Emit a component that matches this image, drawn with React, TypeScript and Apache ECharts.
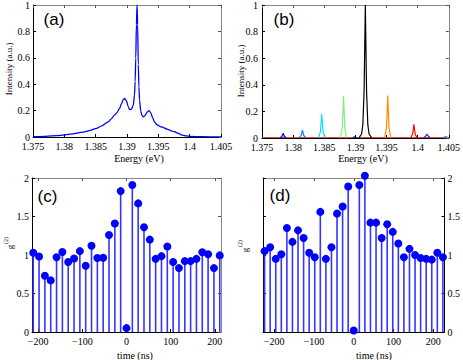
import React, { useEffect, useRef } from "react";
import * as echarts from "echarts";

const SERIF = "Liberation Serif";
const SANS = "Liberation Sans";

const energyTicks = [1.375, 1.38, 1.385, 1.39, 1.395, 1.4, 1.405];
const timeTicks = [-200, -100, 0, 100, 200];

// Panel (a): measured spectrum [energy eV, intensity]
const spectrumA: [number, number][] = [
  [1.375, 0.002], [1.377, 0.005], [1.379, 0.011], [1.381, 0.022], [1.383, 0.037],
  [1.384, 0.048], [1.385, 0.063], [1.386, 0.085], [1.387, 0.115], [1.3875, 0.138],
  [1.388, 0.165], [1.3884, 0.185], [1.3888, 0.215], [1.3891, 0.25], [1.3894, 0.283],
  [1.3896, 0.292], [1.3899, 0.275], [1.3902, 0.23], [1.3904, 0.208], [1.3907, 0.21],
  [1.391, 0.24], [1.3912, 0.32], [1.3913, 0.42], [1.3914, 0.6], [1.3915, 0.85],
  [1.3916, 1.0], [1.3917, 0.85], [1.3918, 0.55], [1.3919, 0.38], [1.392, 0.28],
  [1.3922, 0.195], [1.3924, 0.163], [1.3926, 0.153], [1.3928, 0.158], [1.393, 0.172],
  [1.3932, 0.188], [1.3935, 0.2], [1.3938, 0.183], [1.3941, 0.145], [1.3944, 0.112],
  [1.3948, 0.092], [1.3955, 0.076], [1.3965, 0.058], [1.3972, 0.045], [1.3977, 0.038],
  [1.3982, 0.027], [1.3988, 0.014], [1.3995, 0.008], [1.4, 0.005], [1.402, 0.002],
  [1.405, 0.001],
];

// Panel (b): individual spectral lines
const baselineB: [number, number][] = [[1.375, 0.003], [1.405, 0.003]];
const peakBlue1: [number, number][] = [[1.3779, 0.002], [1.3782, 0.012], [1.3784, 0.035], [1.3786, 0.012], [1.3789, 0.002]];
const peakAzure1: [number, number][] = [[1.381, 0.002], [1.3813, 0.02], [1.3815, 0.06], [1.3817, 0.02], [1.382, 0.002]];
const peakCyan: [number, number][] = [[1.3841, 0.002], [1.3844, 0.05], [1.3846, 0.18], [1.3848, 0.05], [1.3851, 0.002]];
const peakGreen: [number, number][] = [[1.3876, 0.002], [1.3879, 0.08], [1.3881, 0.315], [1.3883, 0.08], [1.3886, 0.002]];
const peakNavy: [number, number][] = [[1.3896, 0.002], [1.3899, 0.01], [1.3902, 0.002]];
const peakBlack: [number, number][] = [[1.3906, 0.003], [1.391, 0.03], [1.3912, 0.1], [1.3914, 0.35], [1.3916, 1.0], [1.3918, 0.35], [1.392, 0.1], [1.3922, 0.03], [1.3926, 0.003]];
const peakOrange: [number, number][] = [[1.3947, 0.002], [1.395, 0.08], [1.3952, 0.32], [1.3954, 0.08], [1.3957, 0.002]];
const peakRed: [number, number][] = [[1.3989, 0.002], [1.3992, 0.03], [1.3994, 0.103], [1.3996, 0.03], [1.3999, 0.002]];
const peakBlue2: [number, number][] = [[1.401, 0.002], [1.4013, 0.015], [1.4015, 0.03], [1.4017, 0.015], [1.402, 0.002]];
const peakAzure2: [number, number][] = [[1.404, 0.002], [1.4043, 0.008], [1.4045, 0.013], [1.4047, 0.008], [1.405, 0.002]];

// Panel (c)
const timesC = [-211.2, -198, -184.8, -171.6, -158.4, -145.2, -132, -118.8, -105.6, -92.4, -79.2, -66, -52.8, -39.6, -26.4, -13.2, 0,
  13.2, 26.4, 39.6, 52.8, 66, 79.2, 92.4, 105.6, 118.8, 132, 145.2, 158.4, 171.6, 184.8, 198, 211.2];
const g2C = [1.03, 0.98, 0.73, 0.67, 0.97, 1.04, 0.91, 0.955, 1.05, 0.86, 1.12, 0.96, 0.965, 1.26, 1.41, 1.83, 0.05,
  1.91, 1.67, 1.36, 1.2, 0.95, 0.985, 1.11, 0.91, 0.83, 0.92, 0.92, 0.95, 1.035, 1.01, 0.83, 0.995];

// Panel (d)
const timesD = [-224, -210, -196, -182, -168, -154, -140, -126, -112, -98, -84, -70, -56, -42, -28, -14, 0,
  14, 28, 42, 56, 70, 84, 98, 112, 126, 140, 154, 168, 182, 196, 210, 224];
const g2D = [1.05, 1.1, 0.95, 1.01, 1.35, 1.17, 1.32, 1.22, 1.03, 0.97, 1.56, 0.95, 1.1, 1.54, 1.63, 1.89, 0.02,
  1.91, 2.03, 1.42, 1.42, 1.22, 1.4, 1.3, 1.15, 0.97, 1.08, 1.0, 0.96, 0.95, 0.94, 1.03, 0.97];

const fmtEnergy = (v: number) => String(Math.round(v * 1000) / 1000);
const fmtTime = (v: number) => String(Math.round(v)).replace("-", "\u2212");

const labelStyle = { fontFamily: SERIF, fontSize: 10, fontWeight: "normal", color: "#000" };

function xMain(gridIndex: number, min: number, max: number, ticks: number[], fmt: (v: number) => string) {
  return {
    type: "value", gridIndex, min, max, position: "bottom",
    axisLine: { show: true, onZero: false, lineStyle: { color: "#000", width: 1 } },
    axisTick: { show: true, inside: true, length: 3, customValues: ticks, lineStyle: { color: "#000" } },
    axisLabel: { ...labelStyle, customValues: ticks, formatter: fmt, margin: 4 },
    splitLine: { show: false },
  };
}
function xMirror(gridIndex: number, min: number, max: number, ticks: number[]) {
  return {
    type: "value", gridIndex, min, max, position: "top",
    axisLine: { show: true, onZero: false, lineStyle: { color: "#888", width: 1 } },
    axisTick: { show: true, inside: true, length: 3, customValues: ticks, lineStyle: { color: "#555" } },
    axisLabel: { show: false },
    splitLine: { show: false },
  };
}
function yAx(gridIndex: number, max: number, interval: number, position: string, labels: boolean, main: boolean, margin: number) {
  return {
    type: "value", gridIndex, min: 0, max, interval, position,
    axisLine: { show: true, onZero: false, lineStyle: { color: main ? "#000" : "#888", width: 1 } },
    axisTick: { show: true, inside: true, length: 3, lineStyle: { color: main ? "#000" : "#555" } },
    axisLabel: labels ? { ...labelStyle, margin } : { show: false },
    splitLine: { show: false },
  };
}

function peakSeries(data: [number, number][], color: string, width = 1.2) {
  return {
    type: "line", xAxisIndex: 2, yAxisIndex: 2, data, showSymbol: false,
    lineStyle: { color, width }, z: 3,
  };
}

function txt(text: string, x: number, y: number, size: number, family: string, rotate = false) {
  return {
    type: "text", x, y, rotation: rotate ? Math.PI / 2 : 0, z: 100,
    style: {
      text, fill: "#000", font: `normal ${size}px '${family}'`,
      fontSize: size, fontFamily: family, fontWeight: "normal",
      align: "center", verticalAlign: "middle",
    },
  };
}

export default function App() {
  const ref = useRef<HTMLDivElement>(null);
  useEffect(() => {
    if (!ref.current) return;
    const chart = echarts.init(ref.current, undefined, { renderer: "svg" });
    const option: any = {
      animation: false,
      backgroundColor: "#fff",
      grid: [
        { left: 33, top: 3, width: 188, height: 134 },
        { left: 262, top: 5, width: 187, height: 133 },
        { left: 32, top: 178, width: 189, height: 154 },
        { left: 263, top: 178, width: 186, height: 154 },
      ],
      xAxis: [
        xMain(0, 1.375, 1.405, energyTicks, fmtEnergy),
        xMirror(0, 1.375, 1.405, energyTicks),
        xMain(1, 1.375, 1.405, energyTicks, fmtEnergy),
        xMirror(1, 1.375, 1.405, energyTicks),
        xMain(2, -214, 214, timeTicks, fmtTime),
        xMirror(2, -214, 214, timeTicks),
        xMain(3, -228, 228, timeTicks, fmtTime),
        xMirror(3, -228, 228, timeTicks),
      ],
      yAxis: [
        yAx(0, 1, 0.2, "left", true, true, 3),
        yAx(0, 1, 0.2, "right", false, false, 3),
        yAx(1, 1, 0.2, "left", true, true, 4),
        yAx(1, 1, 0.2, "right", false, false, 3),
        yAx(2, 2, 0.5, "left", true, true, 3),
        yAx(2, 2, 0.5, "right", false, false, 3),
        yAx(3, 2, 0.5, "right", true, true, 3),
        yAx(3, 2, 0.5, "left", false, true, 3),
      ],
      series: [
        {
          type: "line", xAxisIndex: 0, yAxisIndex: 0, data: spectrumA, showSymbol: false,
          smooth: 0.3, smoothMonotone: "x", lineStyle: { color: "#0000ff", width: 1.3 },
        },
        peakSeries(baselineB, "#c83a28", 1),
        peakSeries(peakBlue1, "#0000ff"),
        peakSeries(peakAzure1, "#1a7cff"),
        peakSeries(peakCyan, "#00e5ff"),
        peakSeries(peakGreen, "#7fef7f"),
        peakSeries(peakNavy, "#0000b0"),
        peakSeries(peakBlack, "#000000"),
        peakSeries(peakOrange, "#ff8c00"),
        peakSeries(peakRed, "#ff0000"),
        peakSeries(peakBlue2, "#2a2aff"),
        peakSeries(peakAzure2, "#3399ff"),
        {
          type: "bar", xAxisIndex: 4, yAxisIndex: 4, barWidth: 1.6, clip: false,
          data: timesC.map((t, i) => [t, g2C[i]]), itemStyle: { color: "#3535ff" },
        },
        {
          type: "scatter", xAxisIndex: 4, yAxisIndex: 4, symbolSize: 8, clip: false, z: 4,
          data: timesC.map((t, i) => [t, g2C[i]]), itemStyle: { color: "#0000ff", opacity: 1 },
        },
        {
          type: "bar", xAxisIndex: 6, yAxisIndex: 6, barWidth: 1.6, clip: false,
          data: timesD.map((t, i) => [t, g2D[i]]), itemStyle: { color: "#3535ff" },
        },
        {
          type: "scatter", xAxisIndex: 6, yAxisIndex: 6, symbolSize: 8, clip: false, z: 4,
          data: timesD.map((t, i) => [t, g2D[i]]), itemStyle: { color: "#0000ff", opacity: 1 },
        },
      ],
      graphic: [
        txt("(a)", 54, 19, 17, SANS),
        txt("(b)", 284, 19, 17, SANS),
        txt("(c)", 47.5, 196, 17, SANS),
        txt("(d)", 280, 195, 17, SANS),
        txt("Intensity (a.u.)", 8.5, 69, 9, SERIF, true),
        txt("Intensity (a.u.)", 241, 71, 9, SERIF, true),
        txt("Energy (eV)", 139, 158.5, 10, SERIF),
        txt("Energy (eV)", 363, 158.5, 10, SERIF),
        txt("time (ns)", 135, 355, 10, SERIF),
        txt("time (ns)", 374, 355, 10, SERIF),
        txt("g", 10, 247, 9, SERIF, true),
        txt("(2)", 6, 240.5, 6, SERIF, true),
        txt("g", 245, 250, 9, SERIF, true),
        txt("(2)", 240, 243.5, 6, SERIF, true),
      ],
    };
    chart.setOption(option);
    return () => chart.dispose();
  }, []);
  return <div ref={ref} style={{ position: "absolute", left: 0, top: 0, width: 463, height: 360 }} />;
}
